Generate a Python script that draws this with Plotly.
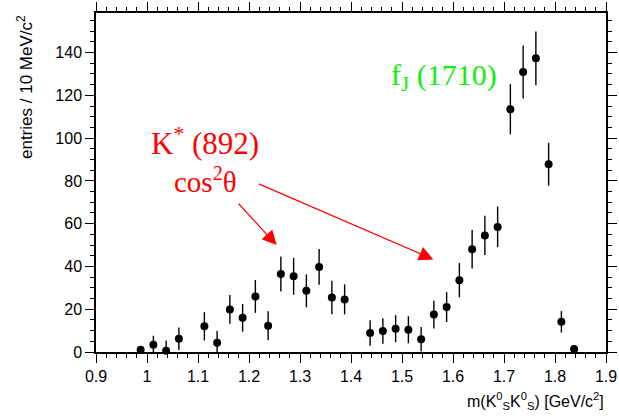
import plotly.graph_objects as go

# bin centres (GeV/c^2)
mass = [0.9875, 1.0125, 1.0375, 1.0625, 1.1125, 1.1375, 1.1625, 1.1875, 1.2125,
        1.2375, 1.2625, 1.2875, 1.3125, 1.3375, 1.3625, 1.3875, 1.4375, 1.4625,
        1.4875, 1.5125, 1.5375, 1.5625, 1.5875, 1.6125, 1.6375, 1.6625, 1.6875,
        1.7125, 1.7375, 1.7625, 1.7875, 1.8125, 1.8375]
entries = [1.0, 3.4, 0.6, 6.2, 12.0, 4.3, 19.9, 16.0, 26.0,
           12.3, 36.5, 35.4, 28.6, 39.8, 25.5, 24.6, 8.9, 9.8,
           10.9, 10.4, 6.0, 17.5, 21.0, 33.6, 48.0, 54.5, 58.5,
           113.5, 130.9, 137.3, 87.8, 14.1, 1.4]
errors = [1.0, 4.2, 4.8, 5.3, 6.6, 5.5, 6.7, 6.5, 7.7,
          6.8, 8.2, 8.6, 7.7, 8.3, 7.8, 7.0, 6.0, 6.0,
          6.3, 6.3, 5.7, 6.5, 7.0, 8.0, 9.0, 9.2, 9.5,
          11.7, 12.4, 12.6, 10.0, 5.0, 1.5]

x_ticks = [0.9, 1.0, 1.1, 1.2, 1.3, 1.4, 1.5, 1.6, 1.7, 1.8, 1.9]
x_ticklabels = ["0.9", "1", "1.1", "1.2", "1.3", "1.4", "1.5", "1.6", "1.7", "1.8", "1.9"]
y_ticks = [0, 20, 40, 60, 80, 100, 120, 140]

fig = go.Figure()
fig.add_trace(go.Scatter(
    x=mass, y=entries, mode="markers",
    marker=dict(color="black", size=8),
    error_y=dict(type="data", array=errors, color="black", thickness=1.4, width=0),
    showlegend=False, cliponaxis=False,
))

sans = "Liberation Sans, Arial, sans-serif"
serif = "Liberation Serif, Times New Roman, serif"

axis_common = dict(
    showline=True, linewidth=1.5, linecolor="black", mirror="ticks",
    ticks="outside", ticklen=9, tickwidth=1, tickcolor="black",
    showgrid=False, zeroline=False, automargin=False,
    tickfont=dict(family=sans, size=16, color="black"),
)

fig.update_layout(
    width=619, height=416, autosize=False,
    margin=dict(l=96, r=13, t=13, b=64, pad=0),
    paper_bgcolor="white", plot_bgcolor="white",
    xaxis=dict(range=[0.9, 1.9], tickvals=x_ticks, ticktext=x_ticklabels,
               minor=dict(dtick=0.02, tick0=0.9, ticklen=4.5, tickwidth=1,
                          tickcolor="black", ticks="outside"),
               **axis_common),
    yaxis=dict(range=[0, 158.5], tickvals=y_ticks,
               minor=dict(dtick=5, tick0=0, ticklen=4.5, tickwidth=1,
                          tickcolor="black", ticks="outside"),
               **axis_common),
)

annotations = [
    dict(text="entries / 10 MeV/c<sup>2</sup>", xref="paper", yref="paper",
         x=-0.139, y=0.782, xanchor="center", yanchor="middle",
         textangle=-90, showarrow=False,
         font=dict(family=sans, size=17, color="black")),
    dict(text="m(K<sup>0</sup><sub>S</sub>K<sup>0</sup><sub>S</sub>) [GeV/c<sup>2</sup>]",
         xref="paper", yref="paper", x=1.0, y=-0.105, xanchor="right", yanchor="top",
         showarrow=False, font=dict(family=sans, size=16, color="black")),
    dict(text="f<sub>J</sub> (1710)", xref="x", yref="y", x=1.4745, y=128.5,
         xanchor="left", yanchor="middle", showarrow=False,
         font=dict(family=serif, size=30, color="#11ee11")),
    dict(text="K<sup>*</sup> (892)", xref="x", yref="y", x=1.0035, y=98.4,
         xanchor="left", yanchor="middle", showarrow=False,
         font=dict(family=serif, size=31, color="red")),
    dict(text="cos<sup>2</sup>θ", xref="x", yref="y", x=1.049, y=80.2,
         xanchor="left", yanchor="middle", showarrow=False,
         font=dict(family=serif, size=29, color="red")),
    dict(text="", x=1.2543, y=50.0, ax=1.177, ay=70.0, xref="x", yref="y",
         axref="x", ayref="y", showarrow=True, arrowhead=2, arrowsize=2.4,
         arrowwidth=1.2, arrowcolor="red", standoff=0),
    dict(text="", x=1.5614, y=43.3, ax=1.2163, ay=78.9, xref="x", yref="y",
         axref="x", ayref="y", showarrow=True, arrowhead=2, arrowsize=2.4,
         arrowwidth=1.2, arrowcolor="red", standoff=0),
]
fig.update_layout(annotations=annotations)

fig.write_html("out.html", config={"displayModeBar": False},
               post_script="document.body.style.margin='0';")
